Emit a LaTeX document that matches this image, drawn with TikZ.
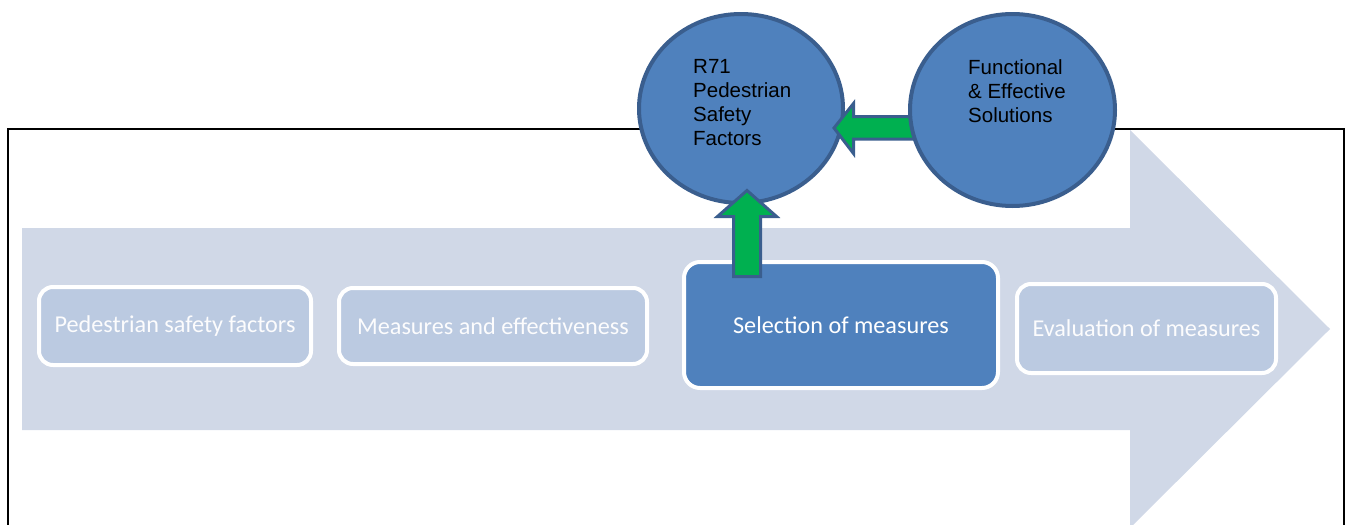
\documentclass[tikz,border=0pt]{standalone}
\usepackage{fontspec}
\setmainfont{Carlito}
\newfontfamily\arialf{Liberation Sans}
\usetikzlibrary{shapes.geometric}
\definecolor{arrowbg}{HTML}{D0D8E7}
\definecolor{lightbox}{HTML}{BBCAE1}
\definecolor{midblue}{HTML}{4F81BD}
\definecolor{darkblue}{HTML}{3A5E8E}
\definecolor{greenfill}{HTML}{00B050}
\begin{document}
\begin{tikzpicture}[x=1pt,y=-1pt,
  stagebox/.style={draw=white, line width=4pt, rounded corners=14pt, fill=lightbox,
    text=white!95!lightbox, font=\fontsize{24.2}{28}\selectfont, inner sep=0pt},
  activebox/.style={stagebox, fill=midblue, text=white},
  bubble/.style={ellipse, draw=darkblue, line width=4pt, fill=midblue, inner sep=0pt},
  bubbletext/.style={anchor=base west, inner sep=0pt, font=\arialf\fontsize{20.5}{24}\selectfont, text=black},
  blockarrow/.style={draw=darkblue, line width=3pt, fill=greenfill, line join=miter}]
\useasboundingbox (0,0) rectangle (1350,525);
\clip (0,0) rectangle (1350,525);
% frame
\draw[line width=1.6pt] (8,560) -- (8,129) -- (1344,129) -- (1344,560);
% big background arrow
\fill[arrowbg] (22,228) -- (1130,228) -- (1130,130) -- (1330,329) -- (1130,528) -- (1130,430) -- (22,430) -- cycle;
% stage boxes
\node[stagebox, minimum width=272pt, minimum height=78pt] (b1) at (175,326) {Pedestrian safety factors};
\node[stagebox, minimum width=308pt, minimum height=76pt] (b2) at (493,326) {Measures and effectiveness};
\node[activebox, minimum width=314pt, minimum height=126pt, rounded corners=16pt] (b3) at (841,325) {Selection of measures};
\node[stagebox, minimum width=259pt, minimum height=89pt] (b4) at (1146.5,328.5) {Evaluation of measures};
% bubbles
\node[bubble, minimum width=204pt, minimum height=189pt] (c1) at (741,108.5) {};
\node[bubbletext] (t1) at (693,73) {\parbox[t]{150pt}{\raggedright R71\\Pedestrian\\Safety\\Factors}};
% green block arrows
\draw[blockarrow] (747,190.5) -- (776.5,216.5) -- (760.5,216.5) -- (760.5,276.5) -- (733.5,276.5) -- (733.5,216.5) -- (717.5,216.5) -- cycle;
\draw[blockarrow] (834,128) -- (853.5,103.5) -- (853.5,116.5) -- (916,116.5) -- (916,139) -- (853.5,139) -- (853.5,153.5) -- cycle;
\node[bubble, minimum width=205pt, minimum height=192pt] (c2) at (1012.5,110) {};
\node[bubbletext] (t2) at (968,74) {\parbox[t]{150pt}{\raggedright Functional\\\& Effective\\Solutions}};
\end{tikzpicture}
\end{document}
